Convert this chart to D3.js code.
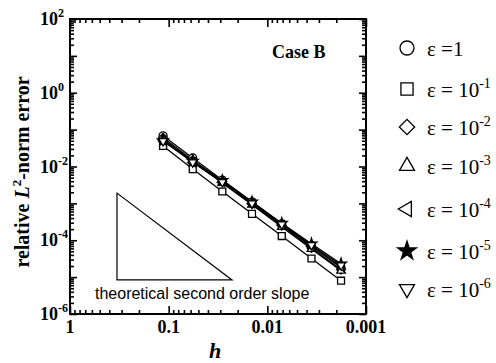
<!DOCTYPE html>
<html>
<head>
<meta charset="utf-8">
<script src="https://cdn.jsdelivr.net/npm/d3@7/dist/d3.min.js"></script>
<style>
  body { margin: 0; background: #fff; }
  svg { display: block; }
  .serif { font-family: "Liberation Serif", "Times New Roman", serif; }
</style>
</head>
<body>
<div id="chart"></div>
<script>
// grid spacing h (halved each refinement)
var hValues = [0.114, 0.057, 0.0286, 0.0143, 0.00714, 0.00357, 0.00179];

// relative L2-norm error for each epsilon
var errEps0 = [0.068, 0.0170, 0.0043, 0.00110, 0.00028, 7.0e-5, 1.8e-5];
var errEps1 = [0.036, 0.0085, 0.0021, 0.00052, 0.00013, 3.2e-5, 8.0e-6];
var errEps2 = [0.060, 0.0150, 0.0039, 0.00098, 0.00025, 6.2e-5, 1.6e-5];
var errEps3 = [0.055, 0.0140, 0.0036, 0.00092, 0.00023, 5.8e-5, 1.5e-5];
var errEps4 = [0.052, 0.0130, 0.0037, 0.00098, 0.00026, 6.8e-5, 1.9e-5];
var errEps5 = [0.050, 0.0140, 0.0042, 0.00110, 0.00029, 8.0e-5, 2.3e-5];
var errEps6 = [0.049, 0.0130, 0.0038, 0.00100, 0.00027, 7.4e-5, 2.1e-5];

var seriesNames = ["1", "-1", "-2", "-3", "-4", "-5", "-6"];
var seriesMarkers = ["circle", "square", "diamond", "up", "left", "star", "down"];

// reference triangle for second order slope: corners (h, error)
var slopeTriangle = [[0.334, 1.9e-3], [0.334, 8.4e-6], [0.0228, 8.4e-6]];

var xTickLabels = [1, 0.1, 0.01, 0.001];
var yTickExponents = [2, 0, -2, -4, -6];

(function () {
    var W = 496, H = 363;
    var mL = 70, mR = 366, mT = 19, mB = 314;

    var svg = d3.select("#chart").append("svg").attr("width", W).attr("height", H);

    var x = d3.scaleLog().domain([1, 0.001]).range([mL, mR]);
    var y = d3.scaleLog().domain([1e-6, 1e2]).range([mB, mT]);

    // tick positions
    var xMajor = [], xMinor = [];
    for (var e = 0; e >= -3; e--) {
        xMajor.push(Math.pow(10, e));
        if (e > -3) for (var m = 2; m <= 9; m++) xMinor.push(m * Math.pow(10, e - 1));
    }
    var yMajor = [], yMinor = [];
    for (var e = -6; e <= 2; e++) {
        yMajor.push(Math.pow(10, e));
        if (e < 2) for (var m = 2; m <= 9; m++) yMinor.push(m * Math.pow(10, e));
    }

    function addAxis(axisFn, scale, vals, size, tx, ty) {
        var g = svg.append("g")
            .attr("transform", "translate(" + tx + "," + ty + ")")
            .call(axisFn(scale).tickValues(vals).tickSize(size).tickFormat(""));
        g.select(".domain").remove();
        g.selectAll("line").attr("stroke", "#000").attr("stroke-width", 1.6);
    }
    addAxis(d3.axisBottom, x, xMajor, -8, 0, mB);
    addAxis(d3.axisBottom, x, xMinor, -4, 0, mB);
    addAxis(d3.axisTop, x, xMajor, -8, 0, mT);
    addAxis(d3.axisTop, x, xMinor, -4, 0, mT);
    addAxis(d3.axisLeft, y, yMajor, -7, mL, 0);
    addAxis(d3.axisLeft, y, yMinor, -4, mL, 0);
    addAxis(d3.axisRight, y, yMajor, -7, mR, 0);
    addAxis(d3.axisRight, y, yMinor, -4, mR, 0);

    svg.append("rect")
        .attr("x", mL).attr("y", mT)
        .attr("width", mR - mL).attr("height", mB - mT)
        .attr("fill", "none").attr("stroke", "#000").attr("stroke-width", 2);

    // x tick labels
    svg.selectAll(".xlab").data(xTickLabels).enter().append("text")
        .attr("class", "serif")
        .attr("x", function (d) { return x(d); })
        .attr("y", 333)
        .attr("text-anchor", "middle")
        .attr("font-size", 18).attr("font-weight", "bold")
        .text(function (d) { return d; });

    // y tick labels, 10 with superscript exponent
    var ylab = svg.selectAll(".ylab").data(yTickExponents).enter().append("text")
        .attr("class", "serif")
        .attr("x", 40)
        .attr("y", function (d) { return y(Math.pow(10, d)) + 6; })
        .attr("font-size", 18).attr("font-weight", "bold");
    ylab.append("tspan").text("10");
    ylab.append("tspan").attr("dy", -8).attr("font-size", 12).text(function (d) { return d; });

    // axis titles
    var yt = svg.append("text")
        .attr("class", "serif")
        .attr("transform", "translate(29,172) rotate(-90)")
        .attr("text-anchor", "middle")
        .attr("font-size", 20).attr("font-weight", "bold");
    yt.append("tspan").text("relative ");
    yt.append("tspan").attr("font-style", "italic").text("L");
    yt.append("tspan").attr("dy", -8).attr("font-size", 13).text("2");
    yt.append("tspan").attr("dy", 8).text("-norm error");

    svg.append("text")
        .attr("class", "serif")
        .attr("x", (mL + mR) / 2 - 3).attr("y", 358)
        .attr("text-anchor", "middle")
        .attr("font-size", 22).attr("font-weight", "bold").attr("font-style", "italic")
        .text("h");

    svg.append("text")
        .attr("class", "serif")
        .attr("x", 272).attr("y", 58)
        .attr("font-size", 18).attr("font-weight", "bold")
        .text("Case B");

    // slope triangle
    svg.append("path")
        .datum(slopeTriangle)
        .attr("d", d3.line().x(function (d) { return x(d[0]); }).y(function (d) { return y(d[1]); }).curve(d3.curveLinearClosed))
        .attr("fill", "none").attr("stroke", "#000").attr("stroke-width", 1.2);

    svg.append("text")
        .attr("x", 95).attr("y", 299)
        .attr("font-family", "'Liberation Sans', Arial, sans-serif")
        .attr("font-size", 16)
        .text("theoretical second order slope");

    // markers
    function markerPath(kind, s) {
        if (kind === "circle") return d3.symbol().type(d3.symbolCircle).size(s * s * 0.78)();
        if (kind === "square") return d3.symbol().type(d3.symbolSquare).size(s * s * 0.75)();
        if (kind === "diamond") return d3.symbol().type(d3.symbolSquare).size(s * s * 0.6)();
        if (kind === "star") return d3.symbol().type(d3.symbolStar).size(s * s * 0.55)();
        return d3.symbol().type(d3.symbolTriangle).size(s * s * 0.5)();
    }
    function markerRot(kind) {
        if (kind === "diamond") return 45;
        if (kind === "left") return -90;
        if (kind === "down") return 180;
        return 0;
    }

    var allSeries = [errEps0, errEps1, errEps2, errEps3, errEps4, errEps5, errEps6];
    var line = d3.line()
        .x(function (d, i) { return x(hValues[i]); })
        .y(function (d) { return y(d); });

    allSeries.forEach(function (vals) {
        svg.append("path").datum(vals)
            .attr("d", line)
            .attr("fill", "none").attr("stroke", "#000").attr("stroke-width", 1.3);
    });
    allSeries.forEach(function (vals, k) {
        var kind = seriesMarkers[k];
        svg.selectAll(".m" + k).data(vals).enter().append("path")
            .attr("d", markerPath(kind, 8))
            .attr("transform", function (d, i) {
                return "translate(" + x(hValues[i]) + "," + y(d) + ") rotate(" + markerRot(kind) + ")";
            })
            .attr("fill", kind === "star" ? "#000" : "#fff")
            .attr("stroke", "#000").attr("stroke-width", 1.3);
    });

    // legend
    var legendY = [48, 89, 127, 166, 209, 251, 289];
    var leg = svg.selectAll(".leg").data(seriesNames).enter().append("g")
        .attr("transform", function (d, i) { return "translate(407," + legendY[i] + ")"; });
    leg.append("path")
        .attr("d", function (d, i) { return markerPath(seriesMarkers[i], 14); })
        .attr("transform", function (d, i) { return "rotate(" + markerRot(seriesMarkers[i]) + ")"; })
        .attr("fill", function (d, i) { return seriesMarkers[i] === "star" ? "#000" : "none"; })
        .attr("stroke", "#000").attr("stroke-width", 1.3);
    var lt = leg.append("text")
        .attr("class", "serif")
        .attr("x", 20).attr("y", 8)
        .attr("font-size", 21);
    lt.append("tspan").text(function (d) { return d === "1" ? "\u03b5 =1" : "\u03b5 = 10"; });
    lt.filter(function (d) { return d !== "1"; })
        .append("tspan").attr("dy", -9).attr("font-size", 14).text(function (d) { return d; });
})();
</script>
</body>
</html>
